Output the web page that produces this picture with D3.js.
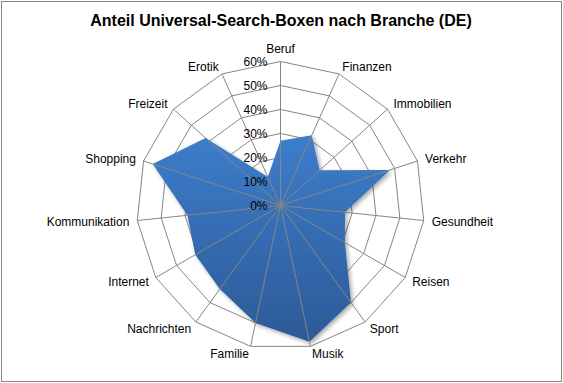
<!DOCTYPE html>
<html><head><meta charset="utf-8">
<script src="https://cdn.jsdelivr.net/npm/d3@7"></script>
<style>body{margin:0;background:#fff}svg{display:block}text{font-family:"Liberation Sans",Arial,sans-serif}</style>
</head><body>
<svg id="c" width="563" height="383"></svg>
<script>
const categories = ["Beruf","Finanzen","Immobilien","Verkehr","Gesundheit","Reisen","Sport","Musik","Familie","Nachrichten","Internet","Kommunikation","Shopping","Freizeit","Erotik"];
const values = [0.27,0.32,0.22,0.48,0.27,0.31,0.50,0.58,0.50,0.43,0.41,0.39,0.56,0.42,0.13];
const tickValues = [0,0.1,0.2,0.3,0.4,0.5,0.6];
const title = "Anteil Universal-Search-Boxen nach Branche (DE)";

const svg = d3.select("#c");
const W = 563, H = 383, cx = 280.5, cy = 205.5, R = 144;
svg.append("rect").attr("x",1.5).attr("y",1.5).attr("width",W-3).attr("height",H-3)
  .attr("fill","#fff").attr("stroke","#868686").attr("stroke-width",1);
svg.append("text").attr("x",281).attr("y",26).attr("text-anchor","middle")
  .attr("font-size","16px").attr("font-weight","bold").attr("fill","#000").text(title);

const defs = svg.append("defs");
const grad = defs.append("linearGradient").attr("id","g").attr("x1",0).attr("y1",0).attr("x2",0).attr("y2",1);
grad.append("stop").attr("offset","0%").attr("stop-color","#3d7dcb");
grad.append("stop").attr("offset","100%").attr("stop-color","#2c5a97");
const f = defs.append("filter").attr("id","sh").attr("x","-20%").attr("y","-20%").attr("width","140%").attr("height","140%");
f.append("feDropShadow").attr("dx",2).attr("dy",2).attr("stdDeviation",2).attr("flood-color","#000").attr("flood-opacity",0.35);

const r = d3.scaleLinear().domain([0,0.6]).range([0,R]);
const ang = d3.scalePoint().domain(categories).range([0, 2*Math.PI*(categories.length-1)/categories.length]);
const g = svg.append("g").attr("transform",`translate(${cx},${cy})`);

const ring = d3.lineRadial().angle(d=>ang(d)).curve(d3.curveLinearClosed);
tickValues.slice(1).forEach(t=>{
  g.append("path").attr("d", ring.radius(()=>r(t))(categories))
   .attr("fill","none").attr("stroke","#868686").attr("stroke-width",1);
});

const area = d3.lineRadial().angle((d,i)=>ang(categories[i])).radius(d=>r(d)).curve(d3.curveLinearClosed);
g.append("path").attr("d", area(values)).attr("fill","url(#g)").attr("filter","url(#sh)");

categories.forEach(c=>{
  const a = ang(c);
  g.append("line").attr("x1",0).attr("y1",0)
   .attr("x2", r(0.6)*Math.sin(a)).attr("y2", -r(0.6)*Math.cos(a))
   .attr("stroke","#868686").attr("stroke-width",1);
});

tickValues.forEach(t=>{
  g.append("text").attr("x",-13).attr("y",-r(t)).attr("dy","0.35em")
   .attr("text-anchor","end").attr("font-size","12px").attr("fill","#000")
   .text(d3.format(".0%")(t));
});

categories.forEach(c=>{
  const a = ang(c), rr = R + 8;
  const x = rr*Math.sin(a), y = -rr*Math.cos(a);
  const s = Math.sin(a);
  const t = g.append("text").attr("font-size","12px").attr("fill","#000").text(c);
  if (Math.abs(s) < 0.01) {
    t.attr("x",x).attr("y",y-1).attr("text-anchor","middle");
  } else {
    t.attr("x",x).attr("y",y).attr("dy","0.35em").attr("text-anchor", s>0?"start":"end");
  }
});
</script>
</body></html>
